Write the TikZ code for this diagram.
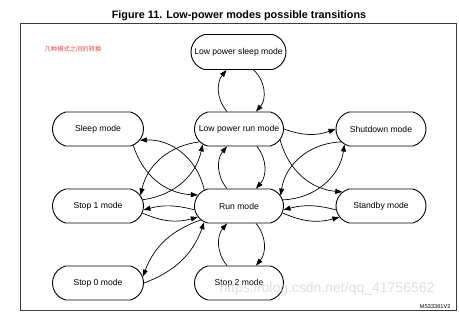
\documentclass[tikz,border=0pt]{standalone}
\usepackage{fontspec}
\setmainfont{Liberation Sans}
\newfontfamily\cjk{Noto Sans CJK SC}
\usetikzlibrary{shapes.misc,arrows.meta,calc}
\definecolor{notered}{RGB}{235,70,70}
\definecolor{framegray}{RGB}{60,60,60}
\begin{document}
\begin{tikzpicture}[x=1pt,y=1pt,
  modebox/.style={draw=black,line width=0.9pt,rounded rectangle,rounded rectangle arc length=150,
    minimum width=91pt,minimum height=34pt,inner sep=0pt,
    font=\fontsize{8.6}{10}\selectfont},
  tr/.style={line width=0.7pt,-{Triangle[length=7pt,width=5pt]}},
]
\useasboundingbox (0,0) rectangle (459,315);
\node[font=\bfseries\fontsize{10.8}{13}\selectfont] (title) at (239,299.5) {Figure 11. Low-power modes possible transitions};
\node[draw=framegray,line width=0.9pt,minimum width=436pt,minimum height=287pt,inner sep=0pt] (frame) at (238.5,148) {};
\node[text=notered,font=\cjk\fontsize{6.3}{7}\selectfont,inner sep=0pt] (note) at (73,266) {几种模式之间的转换};

\node[modebox,minimum width=95pt,minimum height=35pt] (lpsleep) at (238.5,263) {Low power sleep mode};
\node[modebox] (sleep) at (98,186) {Sleep mode};
\node[modebox,minimum width=89pt] (lprun) at (239,186) {Low power run mode};
\node[modebox,minimum width=90pt] (shut) at (381,186) {Shutdown mode};
\node[modebox] (stop1) at (98,109) {Stop 1 mode};
\node[modebox,minimum width=89pt] (run) at (239,109) {Run mode};
\node[modebox,minimum width=90pt] (standby) at (381,109) {Standby mode};
\node[modebox] (stop0) at (98,32) {Stop 0 mode};
\node[modebox,minimum width=89pt] (stop2) at (239,32) {Stop 2 mode};

\node[font=\fontsize{5.6}{6}\selectfont,inner sep=0pt] (code) at (435,8) {MS33361V2};

% vertical pairs
\draw[tr] ($(lprun.north)+(-12,0)$) to[bend left=40] ($(lpsleep.south)+(-12,0)$);
\draw[tr] ($(lpsleep.south)+(15,0)$) to[bend left=45] ($(lprun.north)+(17,0)$);
\draw[tr] ($(lprun.south)+(18,0)$) to[bend left=40] ($(run.north)+(17,0)$);
\draw[tr] ($(run.north)+(-12,0)$) to[bend left=40] ($(lprun.south)+(-12,0)$);
\draw[tr] ($(run.south)+(17,0)$) to[bend left=40] ($(stop2.north)+(17,0)$);
\draw[tr] ($(stop2.north)+(-12,0)$) to[bend left=40] ($(run.south)+(-12,0)$);

% right side
\draw[tr] (lprun.east) to[bend right=20] (shut.west);
\draw[tr] (lprun.-15) to[bend right=35] (standby.160);
\draw[tr] (run.8) to[bend right=40] (shut.203);
\draw[tr] (shut.198) to[bend right=40] (run.14);
\draw[tr] (standby.185) to[bend right=15] (run.-5);
\draw[tr] (run.-9) to[bend right=20] (standby.195);

% left side
\draw[tr] (run.185) to[bend right=15] (stop1.-5);
\draw[tr] (stop1.-9) to[bend right=20] (run.195);
\draw[tr] (run.155) to[bend right=40] (sleep.-15);
\draw[tr] (sleep.-25) to[bend right=35] (run.165);
\draw[tr] (lprun.198) to[bend right=35] (stop1.14);
\draw[tr] (stop1.8) to[bend right=35] (lprun.203);
\draw[tr] (run.200) to[bend right=25] (stop0.8);
\draw[tr] (stop0.0) to[bend right=25] (run.205);

\node[text=black!18,opacity=0.7,font=\fontsize{14}{16}\selectfont,inner sep=0pt] (wm) at (327,26) {https://blog.csdn.net/qq\_41756562};
\end{tikzpicture}
\end{document}
